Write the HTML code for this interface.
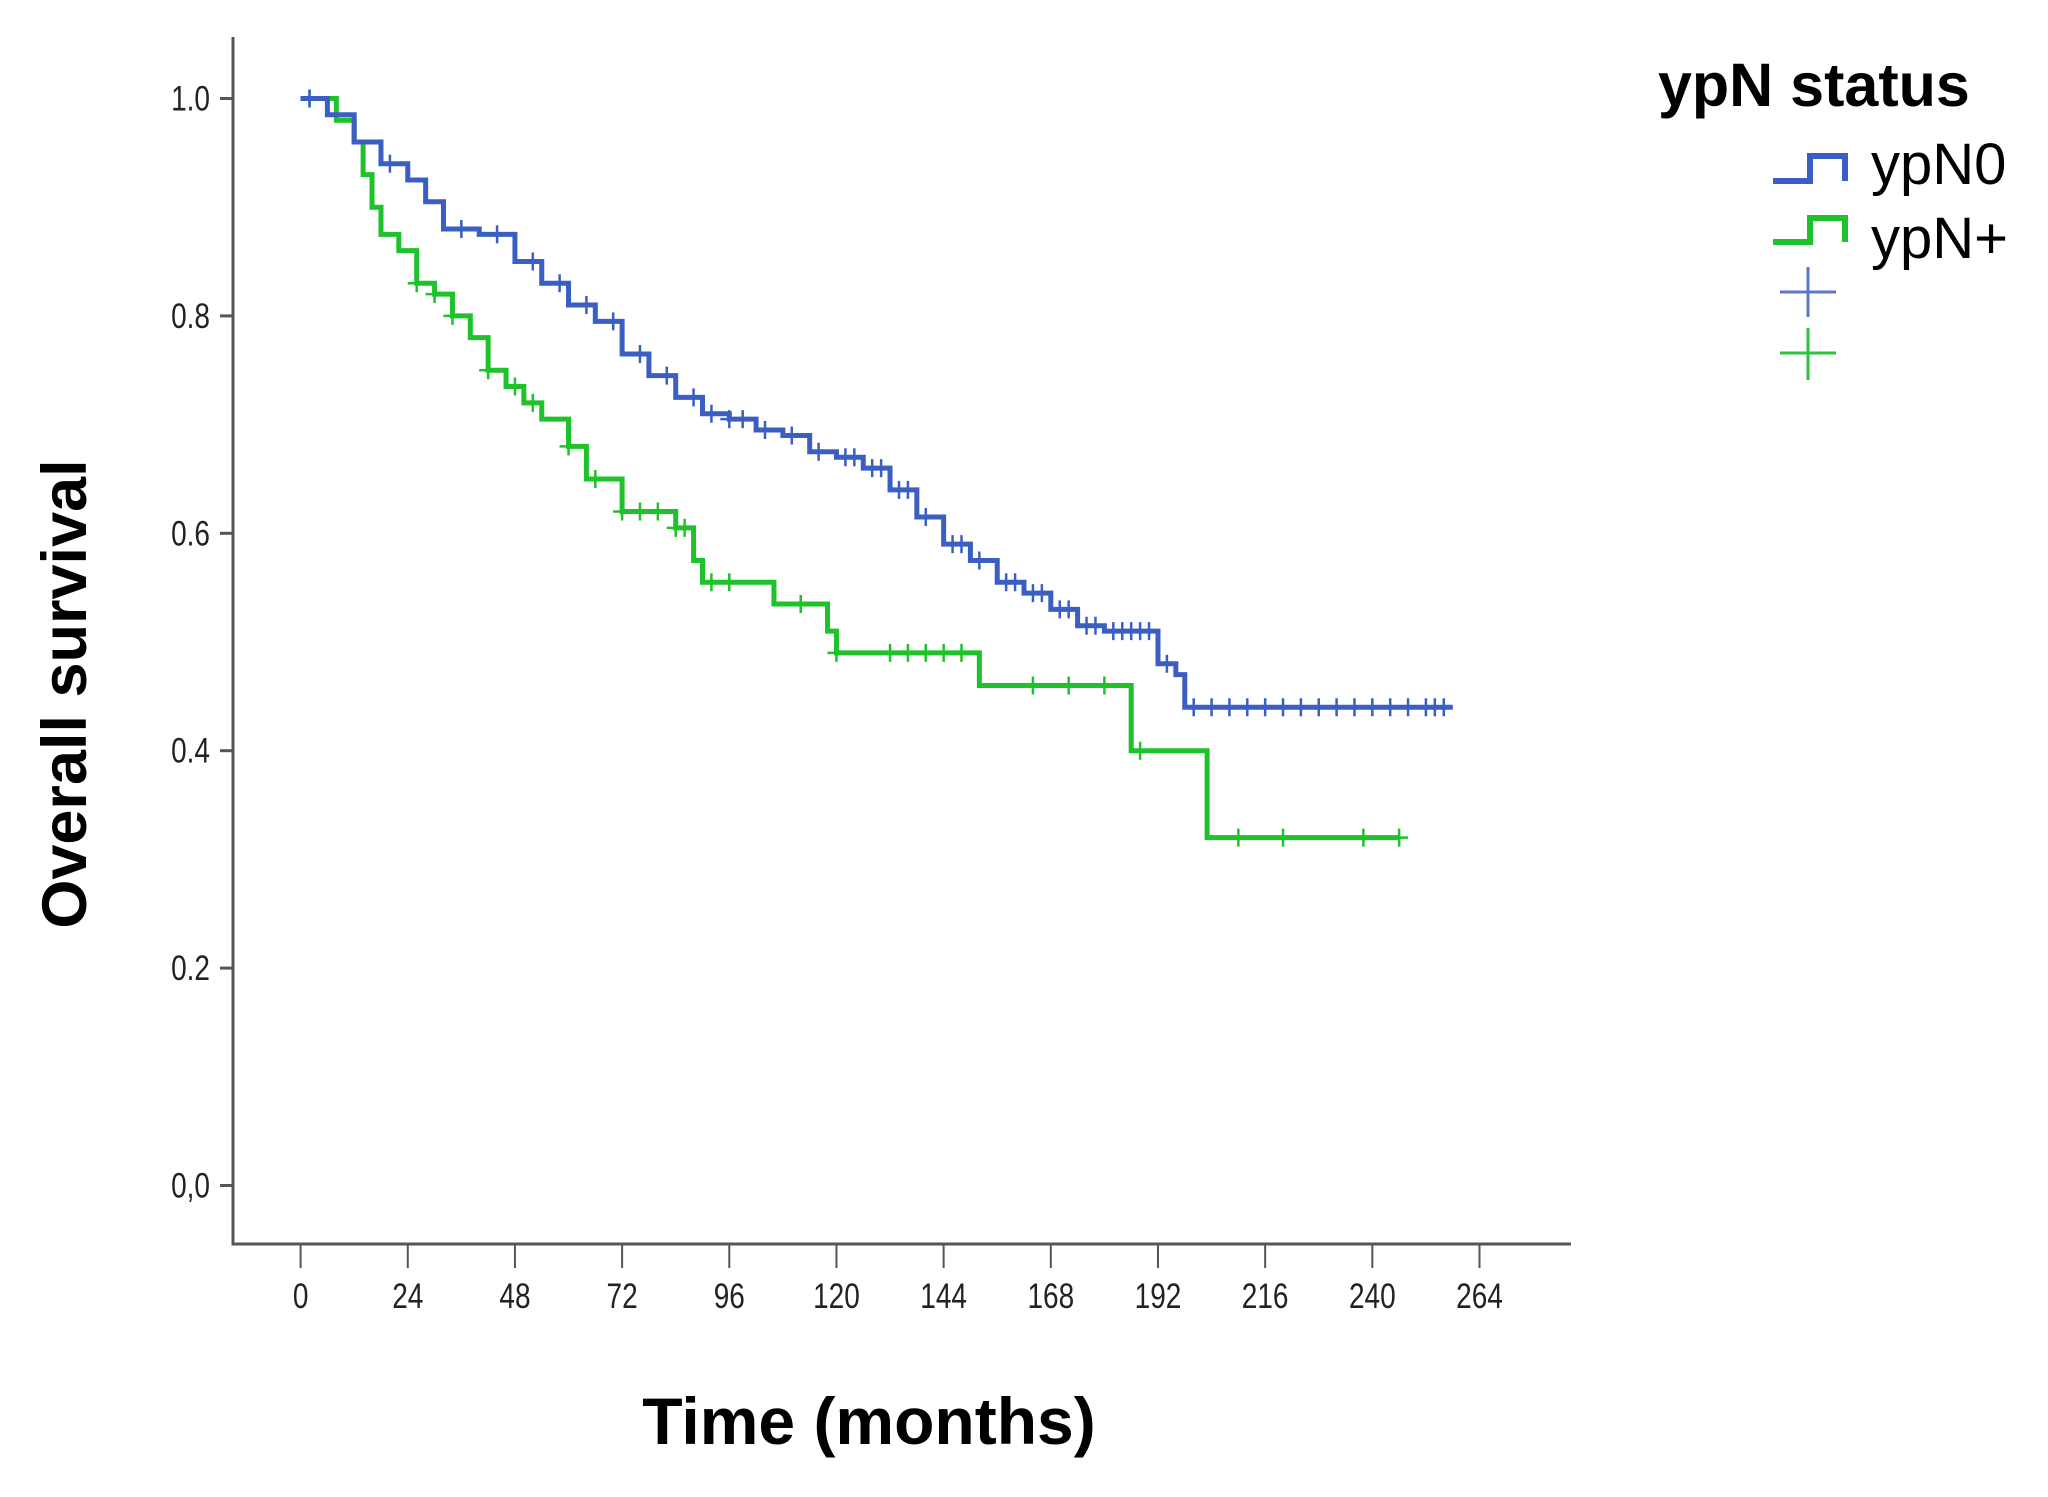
<!DOCTYPE html>
<html><head><meta charset="utf-8"><style>
html,body{margin:0;padding:0;background:#fff;}
svg{display:block;}
text{font-family:"Liberation Sans",sans-serif;}
</style></head><body>
<svg id="chart" width="2048" height="1497" viewBox="0 0 2048 1497" xmlns="http://www.w3.org/2000/svg">
<g id="axes"></g>
<g id="series"></g>
<text x="0" y="0" transform="translate(86,694) rotate(-90)" text-anchor="middle" font-size="63" font-weight="bold">Overall survival</text>
<text x="869" y="1444" text-anchor="middle" font-size="66" font-weight="bold">Time (months)</text>
<g>
<text x="1658" y="106" font-size="61" font-weight="bold">ypN status</text>
<path d="M1773,181 H1810 V156 H1845 V181" fill="none" stroke="#3a5ec2" stroke-width="6"/>
<text x="1871" y="184" font-size="58">ypN0</text>
<path d="M1773,242 H1810 V218 H1845 V242" fill="none" stroke="#1ec22a" stroke-width="6"/>
<text x="1871" y="258" font-size="58">ypN+</text>
<path d="M1780,292 H1836 M1808,267 V317" stroke="#5a78cc" stroke-width="3"/>
<path d="M1780,353 H1836 M1808,328 V380" stroke="#30c040" stroke-width="3"/>
</g>
</svg>
<script>
const xTicks = [0,24,48,72,96,120,144,168,192,216,240,264];
const yTicks = [0.0,0.2,0.4,0.6,0.8,1.0];
const yTickLabels = ["0,0","0.2","0.4","0.6","0.8","1.0"];
const blueTimes = [0,6,12,18,24,28,32,40,48,54,60,66,72,78,84,90,96,102,108,114,120,126,132,138,144,150,156,162,168,174,180,192,196,198,258];
const blueSurv = [1.0,0.985,0.96,0.94,0.925,0.905,0.88,0.875,0.85,0.83,0.81,0.795,0.765,0.745,0.725,0.71,0.705,0.695,0.69,0.675,0.67,0.66,0.64,0.615,0.59,0.575,0.555,0.545,0.53,0.515,0.51,0.48,0.47,0.44,0.44];
const greenTimes = [0,8,12,14,16,18,22,26,30,34,38,42,46,50,54,60,64,72,84,88,90,106,118,120,152,186,203,246];
const greenSurv = [1.0,0.98,0.96,0.93,0.9,0.875,0.86,0.83,0.82,0.8,0.78,0.75,0.735,0.72,0.705,0.68,0.65,0.62,0.605,0.575,0.555,0.535,0.51,0.49,0.46,0.4,0.32,0.32];
const blueCensor = [2,20,36,44,52,58,64,70,76,82,88,92,96,99,104,110,116,122,124,128,130,134,136,140,146,148,152,158,160,164,166,170,172,176,178,182,184,186,188,190,194,200,204,208,212,216,220,224,228,232,236,240,244,248,252,254,256];
const greenCensor = [2,26,30,34,42,48,52,60,66,72,76,80,84,86,92,96,112,120,132,136,140,144,148,164,172,180,188,210,220,238,246];

const X0=300.6, XS=1178.9/264, Y0=1185.5, YS=1087;
const sx = t => X0 + t*XS;
const sy = v => Y0 - v*YS;
const NS="http://www.w3.org/2000/svg";
function mk(tag, attrs, parent){const e=document.createElementNS(NS,tag);for(const k in attrs)e.setAttribute(k,attrs[k]);parent.appendChild(e);return e;}
const axes=document.getElementById('axes');
let e;
e=mk('path',{d:'M233,37 V1244 H1571',fill:'none',stroke:'#555','stroke-width':3},axes);


xTicks.forEach(t=>{
  let l=mk('line',{x1:sx(t),x2:sx(t),y1:1244,y2:1268,stroke:'#555','stroke-width':2},axes);
  
  
  let tx=mk('text',{x:sx(t),y:1308,'text-anchor':'middle','font-size':35,fill:'#222',transform:`translate(${sx(t)},0) scale(0.8,1) translate(${-sx(t)},0)`},axes);
  tx.textContent=t;
  
  
});
yTicks.forEach((v,i)=>{
  let l=mk('line',{x1:220,x2:233,y1:sy(v),y2:sy(v),stroke:'#555','stroke-width':3},axes);
  
  
  let tx=mk('text',{x:210,y:sy(v)+12,'text-anchor':'end','font-size':35,fill:'#222',transform:`translate(210,0) scale(0.8,1) translate(-210,0)`},axes);
  tx.textContent=yTickLabels[i];
  
  
});
const series=document.getElementById('series');
function survAt(times,surv,t){let v=surv[0];for(let i=0;i<times.length;i++){if(times[i]<=t)v=surv[i];}return v;}
function draw(times,surv,cens,color,name){
  let d=`M${sx(times[0])},${sy(surv[0])}`;
  for(let i=1;i<times.length;i++){d+=` H${sx(times[i])} V${sy(surv[i])}`;}
  let p=mk('path',{d:d,fill:'none',stroke:color,'stroke-width':5},series);
  
  
  cens.forEach(t=>{
    const x=sx(t),y=sy(survAt(times,surv,t));
    let c=mk('path',{d:`M${x-9},${y} H${x+9} M${x},${y-9} V${y+9}`,stroke:color,'stroke-width':2.5},series);
    
    
  });
}
draw(greenTimes,greenSurv,greenCensor,'#1ec22a','ypn-plus');
draw(blueTimes,blueSurv,blueCensor,'#3a5ec2','ypn0');
</script>
</body></html>
